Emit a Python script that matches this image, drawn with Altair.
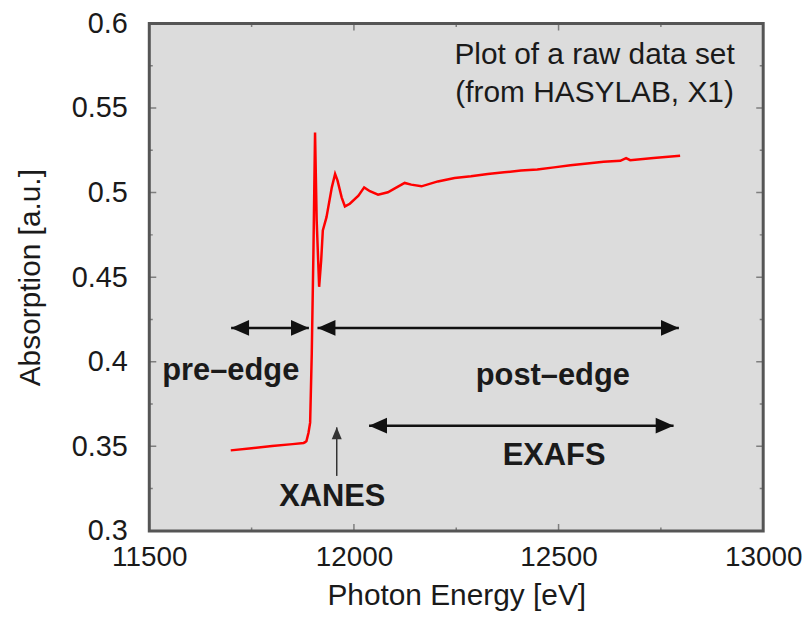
import altair as alt
import pandas as pd

# Spectrum
energy = [11699, 11750, 11800, 11850, 11877, 11881, 11884, 11889, 11893, 11897, 11901, 11905,
          11909, 11915, 11920, 11924, 11933, 11946, 11954, 11960, 11970, 11978, 11990, 12011,
          12025, 12039, 12059, 12083, 12100, 12124, 12140, 12165, 12205, 12246, 12286, 12327,
          12367, 12408, 12448, 12489, 12529, 12570, 12610, 12651, 12665, 12675, 12732, 12797]
absorb = [0.3476, 0.3489, 0.3502, 0.3513, 0.3520, 0.3525, 0.3531, 0.3580, 0.3640, 0.4050, 0.4640, 0.5355,
          0.4835, 0.4443, 0.4600, 0.4776, 0.4855, 0.5031, 0.5110, 0.5071, 0.4972, 0.4918, 0.4934, 0.4982,
          0.5031, 0.5008, 0.4988, 0.5002, 0.5025, 0.5057, 0.5047, 0.5037, 0.5066, 0.5086, 0.5096, 0.5110,
          0.5120, 0.5130, 0.5137, 0.5149, 0.5161, 0.5172, 0.5182, 0.5188, 0.5204, 0.5192, 0.5204, 0.5218]

x_major = [11500, 12000, 12500, 13000]
x_minor = [11750, 12250, 12750]
y_major = [0.3, 0.35, 0.4, 0.45, 0.5, 0.55, 0.6]
y_minor = [0.325, 0.375, 0.425, 0.475, 0.525, 0.575]

# Horizontal arrows: start, end, level
harrow_start = [11700, 11911, 12037]
harrow_end = [11890, 12794, 12781]
harrow_level = [0.42, 0.42, 0.3622]

# Vertical (XANES) arrow
varrow_x = [11958]
varrow_tip = [0.3612]
varrow_base = [0.3325]

label_text = ["pre–edge", "post–edge", "EXAFS", "XANES"]
label_x = [11699, 12486, 12489, 11947]
label_y = [0.3943, 0.3914, 0.3443, 0.3200]

note_text = ["Plot of a raw data set", "(from HASYLAB, X1)"]
note_x = [12588, 12588]
note_y = [0.5816, 0.5590]

W, H = 617, 510
FONT = "Liberation Sans"
INK = "#1a1a1a"
FRAME = "#555555"

xs = alt.Scale(domain=[11500, 13000], nice=False, zero=False)
ys = alt.Scale(domain=[0.3, 0.6], nice=False, zero=False)

x_enc = alt.X("E:Q", scale=xs, title="Photon Energy [eV]",
              axis=alt.Axis(values=x_major, format="d", ticks=False, domain=False, grid=False,
                            labelFlush=False, labelOverlap=False,
                            labelFontSize=28, labelPadding=13, labelColor=INK, labelFont=FONT,
                            titleFontSize=30, titleFont=FONT, titleFontWeight="normal",
                            titleColor=INK, titlePadding=9))
y_enc = alt.Y("A:Q", scale=ys, title="Absorption [a.u.]",
              axis=alt.Axis(values=y_major, format="~g", ticks=False, domain=False, grid=False,
                            labelFlush=False, labelOverlap=False,
                            labelFontSize=29, labelPadding=22, labelColor=INK, labelFont=FONT,
                            titleFontSize=30, titleFont=FONT, titleFontWeight="normal",
                            titleColor=INK, titlePadding=26))

spec_df = pd.DataFrame({"E": energy, "A": absorb})
line = alt.Chart(spec_df).mark_line(color="#ff0000", strokeWidth=2.5, clip=True).encode(
    x=x_enc, y=y_enc)

def xticks(vals, size):
    df = pd.DataFrame({"E": vals})
    bot = alt.Chart(df).mark_tick(color=FRAME, size=size, thickness=1.5, clip=True).encode(
        x=x_enc, y=alt.value(H))
    top = alt.Chart(df).mark_tick(color=FRAME, size=size, thickness=1.5, clip=True).encode(
        x=x_enc, y=alt.value(0))
    return [bot, top]

def yticks(vals, size):
    df = pd.DataFrame({"A": vals})
    lft = alt.Chart(df).mark_tick(color=FRAME, size=size, thickness=1.5, clip=True).encode(
        y=y_enc, x=alt.value(0))
    rgt = alt.Chart(df).mark_tick(color=FRAME, size=size, thickness=1.5, clip=True).encode(
        y=y_enc, x=alt.value(W))
    return [lft, rgt]

tick_layers = xticks(x_major, 14) + xticks(x_minor, 7) + yticks(y_major, 14) + yticks(y_minor, 7)

ha_df = pd.DataFrame({"E": harrow_start, "E2": harrow_end, "A": harrow_level})
h_shafts = alt.Chart(ha_df).mark_rule(color="#111111", strokeWidth=2.5).encode(
    x=x_enc, x2="E2:Q", y=y_enc)

LEFT_HEAD = "M0,0L1,-0.44L1,0.44Z"
RIGHT_HEAD = "M0,0L-1,-0.44L-1,0.44Z"
UP_HEAD = "M0,0L-0.42,1L0.42,1Z"

lh_df = pd.DataFrame({"E": harrow_start, "A": harrow_level})
rh_df = pd.DataFrame({"E": harrow_end, "A": harrow_level})
left_heads = alt.Chart(lh_df).mark_point(shape=LEFT_HEAD, size=1296, filled=True,
                                         color="#111111", opacity=1).encode(x=x_enc, y=y_enc)
right_heads = alt.Chart(rh_df).mark_point(shape=RIGHT_HEAD, size=1296, filled=True,
                                          color="#111111", opacity=1).encode(x=x_enc, y=y_enc)

va_df = pd.DataFrame({"E": varrow_x, "A": varrow_tip, "A2": varrow_base})
v_shaft = alt.Chart(va_df).mark_rule(color="#333333", strokeWidth=1.5).encode(
    x=x_enc, y=y_enc, y2="A2:Q")
v_head = alt.Chart(va_df).mark_point(shape=UP_HEAD, size=576, filled=True,
                                     color="#333333", opacity=1).encode(x=x_enc, y=y_enc)

lab_df = pd.DataFrame({"E": label_x, "A": label_y, "t": label_text})
labels = alt.Chart(lab_df).mark_text(font=FONT, fontSize=31, fontWeight="bold", color=INK,
                                     align="center", baseline="middle").encode(
    x=x_enc, y=y_enc, text="t:N")

note_df = pd.DataFrame({"E": note_x, "A": note_y, "t": note_text})
notes = alt.Chart(note_df).mark_text(font=FONT, fontSize=30, color=INK,
                                     align="center", baseline="middle").encode(
    x=x_enc, y=y_enc, text="t:N")

chart = alt.layer(line, *tick_layers, h_shafts, left_heads, right_heads, v_shaft, v_head,
                  labels, notes).properties(
    width=W, height=H,
    autosize=alt.AutoSizeParams(type="none"),
    padding={"left": 142, "top": 14, "right": 40, "bottom": 80},
    background="white",
).configure_view(fill="#dcdcdc", stroke=FRAME, strokeWidth=3)

chart.save("out.html", embed_options={"renderer": "svg", "actions": False})
